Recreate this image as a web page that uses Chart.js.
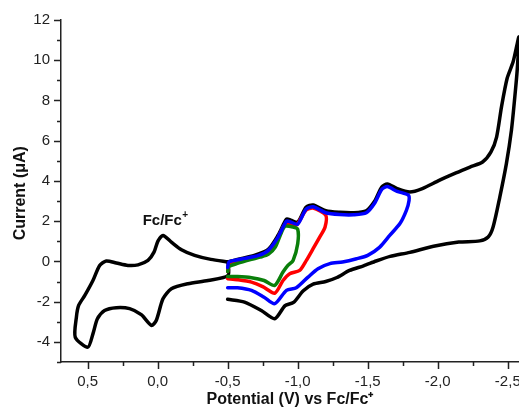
<!DOCTYPE html>
<html>
<head>
<meta charset="utf-8">
<script src="https://cdn.jsdelivr.net/npm/chart.js@4/dist/chart.umd.min.js"></script>
<style>
  html, body { margin: 0; padding: 0; background: #fff; }
  #wrap { width: 519px; height: 409px; }
</style>
</head>
<body>
<div id="wrap"><canvas id="c" width="519" height="409"></canvas></div>
<script>
// ---- Data (potential in V vs Fc/Fc+, current in µA) ----
const fcLoopV = [-0.502, -0.38, -0.264, -0.17, -0.098, -0.038, -0.002, 0.026, 0.069, 0.14, 0.212, 0.295, 0.367, 0.414, 0.462, 0.52, 0.564, 0.58, 0.588, 0.498, 0.462, 0.43, 0.379, 0.295, 0.2, 0.117, 0.045, 0.01, -0.038, -0.098, -0.216, -0.36, -0.502, -0.502];
const fcLoopI = [-0.02, 0.1, 0.3, 0.58, 0.96, 1.29, 1.01, 0.46, 0.05, -0.17, -0.2, -0.08, 0.02, -0.2, -0.95, -1.69, -2.19, -2.77, -3.77, -4.26, -3.6, -2.85, -2.44, -2.3, -2.35, -2.65, -3.18, -2.94, -1.86, -1.36, -1.11, -0.95, -0.7, -0.02];

const blackV = [-0.5, -0.57, -0.69, -0.79, -0.86, -0.92, -0.95, -1.0, -1.06, -1.11, -1.2, -1.3, -1.4, -1.49, -1.55, -1.6, -1.64, -1.71, -1.8, -1.89, -2.01, -2.13, -2.23, -2.32, -2.38, -2.42, -2.455, -2.495, -2.538, -2.58,
                -2.567, -2.55, -2.526, -2.49, -2.443, -2.395, -2.36, -2.3, -2.15, -1.97, -1.8, -1.66, -1.56, -1.47, -1.37, -1.28, -1.2, -1.11, -1.04, -0.97, -0.91, -0.836, -0.74, -0.62, -0.5];
const blackI = [-0.03, 0.1, 0.3, 0.6, 1.3, 2.1, 2.05, 1.95, 2.7, 2.8, 2.52, 2.44, 2.42, 2.52, 3.0, 3.7, 3.85, 3.62, 3.45, 3.62, 4.03, 4.4, 4.69, 4.94, 5.44, 6.18, 7.68, 9.09, 9.92, 11.16,
                9.5, 8.17, 6.52, 4.86, 3.2, 1.71, 1.21, 1.02, 0.96, 0.75, 0.45, 0.25, 0.02, -0.22, -0.45, -0.8, -1.0, -1.13, -1.46, -2.04, -2.2, -2.85, -2.44, -2.02, -1.88];

const blueV = [-0.5, -0.51, -0.57, -0.62, -0.72, -0.79, -0.86, -0.92, -0.95, -1.0, -1.06, -1.11, -1.2, -1.3, -1.4, -1.49, -1.55, -1.6, -1.64, -1.71, -1.79,
               -1.795, -1.776, -1.73, -1.657, -1.586, -1.5, -1.42, -1.32, -1.23, -1.145, -1.074, -0.99, -0.92, -0.836, -0.76, -0.67, -0.57, -0.5];
const blueI = [-0.3, -0.02, 0.08, 0.15, 0.3, 0.55, 1.21, 2.0, 1.96, 1.85, 2.6, 2.72, 2.42, 2.33, 2.32, 2.42, 2.9, 3.58, 3.72, 3.48, 3.3,
               3.03, 2.54, 1.88, 1.29, 0.71, 0.3, 0.13, -0.03, -0.11, -0.36, -0.78, -1.31, -1.44, -2.1, -1.78, -1.44, -1.31, -1.31];

const redV = [-0.5, -0.51, -0.57, -0.67, -0.76, -0.84, -0.9, -0.94, -0.99, -1.06, -1.11, -1.2,
              -1.195, -1.157, -1.11, -1.062, -1.014, -0.943, -0.895, -0.836, -0.75, -0.67, -0.57, -0.5];
const redI = [-0.5, -0.1, 0.0, 0.15, 0.35, 0.9, 1.75, 1.9, 1.8, 2.55, 2.65, 2.3,
              1.7, 1.21, 0.63, 0.05, -0.45, -0.61, -0.95, -1.58, -1.25, -1.03, -0.91, -0.86];

const greenV = [-0.5, -0.51, -0.57, -0.67, -0.73, -0.79, -0.84, -0.88, -0.91, -0.967, -1.0,
                -1.0, -0.967, -0.93, -0.895, -0.836, -0.76, -0.67, -0.57, -0.5];
const greenI = [-0.5, -0.25, -0.1, 0.1, 0.21, 0.35, 0.71, 1.38, 1.75, 1.71, 1.6,
                0.88, 0.05, -0.2, -0.53, -1.19, -0.95, -0.81, -0.75, -0.75];

const xTickValues = [-2.5, -2.0, -1.5, -1.0, -0.5, 0.0, 0.5];
const yTickValues = [-4, -2, 0, 2, 4, 6, 8, 10, 12];

const pts = (V, I) => V.map((v, i) => ({ x: v, y: I[i] }));
const fmt = v => (Math.abs(v) < 1e-9 ? 0 : v).toFixed(1).replace('.', ',');
const FONT = '"Liberation Sans", Arial, sans-serif';

const line = (data, color, order) => ({
  data, borderColor: color, backgroundColor: color, borderWidth: 3.5,
  showLine: true, pointRadius: 0, tension: 0.25, fill: false, order,
  borderJoinStyle: 'round', borderCapStyle: 'round'
});

const extras = {
  id: 'extras',
  afterDraw(chart) {
    const ctx = chart.ctx, xs = chart.scales.x, ys = chart.scales.y;
    const bottom = chart.chartArea.bottom, left = chart.chartArea.left;
    ctx.save();
    ctx.strokeStyle = '#222';
    ctx.lineWidth = 1.5;
    ctx.beginPath();
    for (let k = -10; k <= 2; k++) {
      const v = k * 0.25;
      if (v < xs.min || v > xs.max) continue;
      const px = Math.round(xs.getPixelForValue(v)) + 0.5;
      const len = (k % 2 === 0) ? 7 : 4;
      ctx.moveTo(px, bottom); ctx.lineTo(px, bottom + len);
    }
    for (let v = -5; v <= 12; v++) {
      const py = Math.round(ys.getPixelForValue(v)) + 0.5;
      const len = (v % 2 === 0) ? 7 : 4;
      ctx.moveTo(left, py); ctx.lineTo(left - len, py);
    }
    ctx.stroke();
    // annotation
    ctx.fillStyle = '#111';
    ctx.font = 'bold 15px ' + FONT;
    ctx.textBaseline = 'alphabetic';
    ctx.textAlign = 'left';
    const ax = xs.getPixelForValue(0.107), ay = ys.getPixelForValue(1.82);
    ctx.fillText('Fc/Fc', ax, ay);
    const w = ctx.measureText('Fc/Fc').width;
    ctx.font = 'bold 10px ' + FONT;
    ctx.fillText('+', ax + w + 0.5, ay - 7);
    ctx.restore();
  }
};

new Chart(document.getElementById('c'), {
  type: 'scatter',
  data: {
    datasets: [
      line(pts(blueV, blueI), '#0000ff', 1),
      line(pts(greenV, greenI), '#0a7f0a', 2),
      line(pts(redV, redI), '#ff0000', 3),
      line(pts(blackV, blackI), '#000000', 4),
      line(pts(fcLoopV, fcLoopI), '#000000', 5)
    ]
  },
  options: {
    responsive: false,
    devicePixelRatio: 1,
    animation: false,
    events: [],
    layout: { padding: { top: 20, right: 0, bottom: 0, left: 0 } },
    plugins: { legend: { display: false }, tooltip: { enabled: false } },
    scales: {
      x: {
        type: 'linear', reverse: true, min: -2.58, max: 0.69,
        grid: { display: false, drawTicks: false, tickLength: 0 },
        border: { display: true, color: '#222', width: 1.5 },
        afterBuildTicks: s => { s.ticks = xTickValues.map(v => ({ value: v })); },
        ticks: { autoSkip: false, maxRotation: 0, padding: 11, color: '#222',
                 font: { family: FONT, size: 15 }, callback: v => fmt(v) },
        title: { display: true, text: 'Potential (V) vs Fc/Fc\u207A', color: '#111',
                 font: { family: FONT, size: 16, weight: 'bold' }, padding: { top: 0, bottom: 0 } },
        afterFit: s => { s.height = 47; s.paddingRight = 0; s.paddingLeft = 0; }
      },
      y: {
        type: 'linear', min: -5, max: 12,
        grid: { display: false, drawTicks: false, tickLength: 0 },
        border: { display: true, color: '#222', width: 1.5 },
        afterBuildTicks: s => { s.ticks = yTickValues.map(v => ({ value: v })); },
        ticks: { autoSkip: false, padding: 11, color: '#222',
                 font: { family: FONT, size: 15 }, callback: v => String(v) },
        title: { display: true, text: 'Current (\u03BCA) ', color: '#111',
                 font: { family: FONT, size: 16, weight: 'bold' }, padding: { top: 11, bottom: 0 } },
        afterFit: s => { s.width = 61; }
      }
    }
  },
  plugins: [extras]
});
</script>
</body>
</html>
